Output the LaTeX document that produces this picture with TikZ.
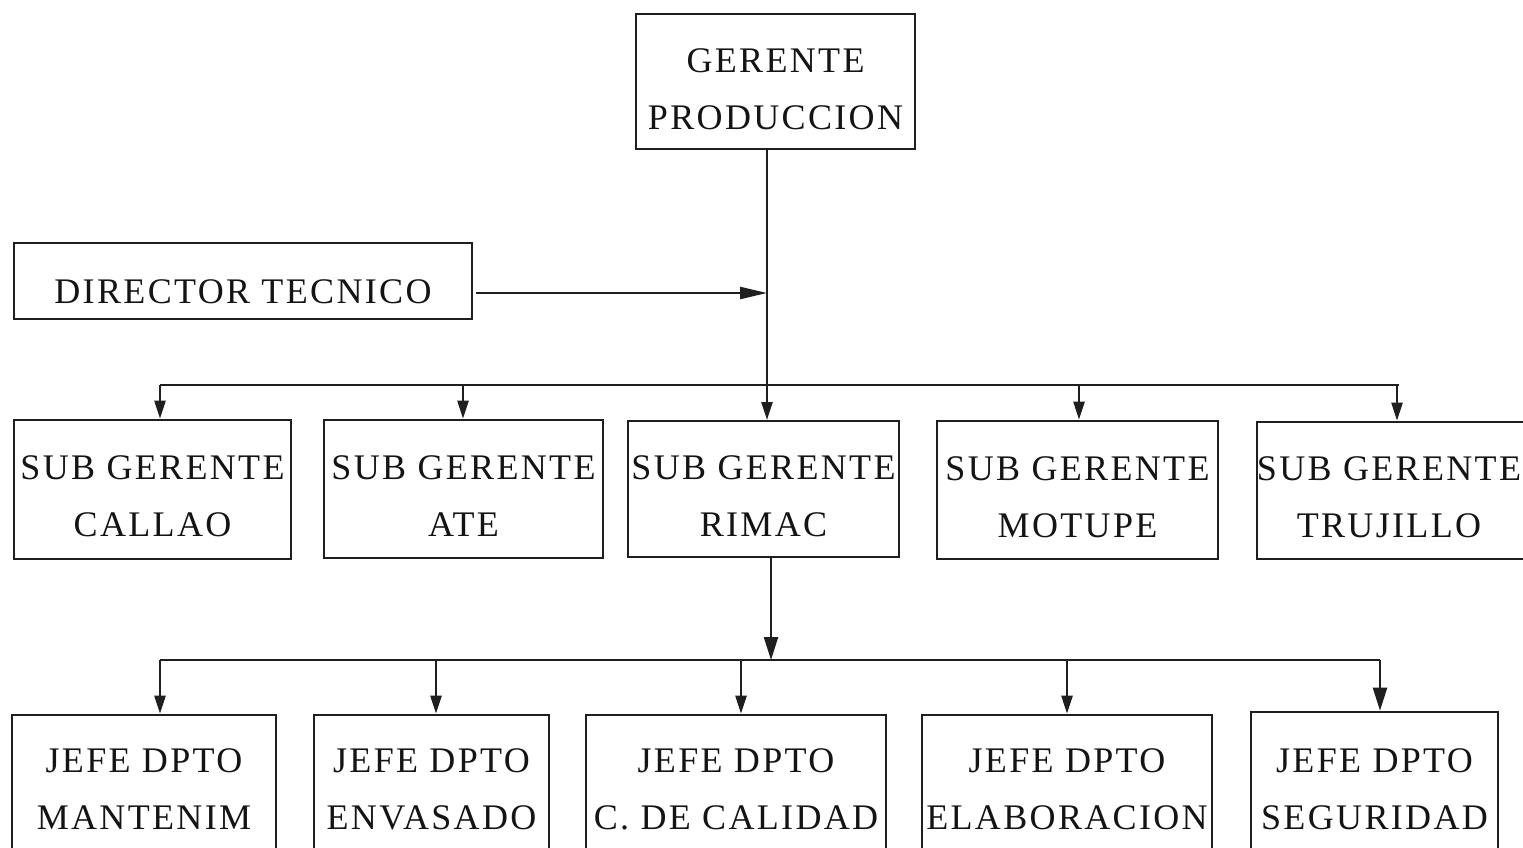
\documentclass[tikz,border=0pt]{standalone}
\usepackage{fontspec}
\setmainfont{Liberation Serif}[LetterSpace=6.5]
\usetikzlibrary{arrows.meta}
\begin{document}
\begin{tikzpicture}[x=1pt,y=-1pt,
  box/.style={draw=black!88, line width=2.6pt, inner sep=0pt},
  lbl/.style={font=\fontsize{36}{57}\selectfont, align=center, inner sep=0pt, text=black!92},
  conn/.style={line width=2.3pt, draw=black!88},
  arr/.style={conn, -{Triangle[width=11pt,length=18pt]}},
  bigarr/.style={conn, -{Triangle[width=14pt,length=23pt]}},
  dirarr/.style={conn, -{Triangle[width=12pt,length=27pt]}}]
\useasboundingbox (0,0) rectangle (1523,847);
\fill[white] (0,0) rectangle (1523,847);
\clip (0,0) rectangle (1523,847);

% top level
\node[box, minimum width=279pt, minimum height=135pt,
  label={[lbl,yshift=-7.5pt]center:{GERENTE\\PRODUCCION}}] (gp) at (775.5,81.5) {};
\node[box, minimum width=458pt, minimum height=76pt,
  label={[lbl,yshift=-11pt]center:{DIRECTOR TECNICO}}] (dt) at (243,281) {};

% sub-managers
\node[box, minimum width=277pt, minimum height=139pt,
  label={[lbl,yshift=-7pt]center:{SUB GERENTE\\CALLAO}}] (callao) at (152.5,489.5) {};
\node[box, minimum width=279pt, minimum height=138pt,
  label={[lbl,yshift=-7pt]center:{SUB GERENTE\\ATE}}] (ate) at (463.5,489) {};
\node[box, minimum width=271pt, minimum height=136pt,
  label={[lbl,yshift=-7pt]center:{SUB GERENTE\\RIMAC}}] (rimac) at (763.5,489) {};
\node[box, minimum width=281pt, minimum height=138pt,
  label={[lbl,yshift=-7pt]center:{SUB GERENTE\\MOTUPE}}] (motupe) at (1077.5,490) {};
\node[box, minimum width=276pt, minimum height=137pt,
  label={[lbl,xshift=-6pt,yshift=-7pt]center:{SUB GERENTE\\TRUJILLO}}] (trujillo) at (1395,490.5) {};

% department heads
\node[box, minimum width=264pt, minimum height=139pt,
  label={[lbl,yshift=-4.5pt]center:{JEFE DPTO\\MANTENIM}}] (mant) at (144,784.5) {};
\node[box, minimum width=235pt, minimum height=139pt,
  label={[lbl,yshift=-4.5pt]center:{JEFE DPTO\\ENVASADO}}] (env) at (431.5,784.5) {};
\node[box, minimum width=300pt, minimum height=139pt,
  label={[lbl,yshift=-4.5pt]center:{JEFE DPTO\\C. DE CALIDAD}}] (cal) at (736,784.5) {};
\node[box, minimum width=290pt, minimum height=139pt,
  label={[lbl,yshift=-4.5pt]center:{JEFE DPTO\\ELABORACION}}] (elab) at (1067,784.5) {};
\node[box, minimum width=247pt, minimum height=143pt,
  label={[lbl,yshift=-5.5pt]center:{JEFE DPTO\\SEGURIDAD}}] (seg) at (1374.5,783.5) {};

% trunk, staff link and bus points
\coordinate (m1) at (767,420);
\coordinate (s0) at (476,293);
\coordinate (b1l) at (160,385);
\coordinate (b1r) at (1399,385);
\coordinate (a1) at (160,385);
\coordinate (a2) at (463,385);
\coordinate (a4) at (1079,385);
\coordinate (a5) at (1397,385);
\coordinate (r0) at (771,557);
\coordinate (b2l) at (160,660);
\coordinate (b2r) at (1380,660);
\coordinate (c1) at (160,660);
\coordinate (c2) at (436,660);
\coordinate (c3) at (741,660);
\coordinate (c4) at (1067,660);
\coordinate (c5) at (1380,660);

% main trunk and staff link
\draw[arr] (gp.south -| m1) -- (m1);
\draw[dirarr] (s0) -- (s0 -| m1);

% first distribution bus
\draw[conn] (b1l) -- (b1r);
\draw[arr] (a1) -- (a1 |- callao.north);
\draw[arr] (a2) -- (a2 |- ate.north);
\draw[arr] (a4) -- (a4 |- motupe.north);
\draw[arr] (a5) -- (a5 |- trujillo.north);

% second distribution bus
\draw[bigarr] (r0) -- (r0 |- b2l);
\draw[conn] (b2l) -- (b2r);
\draw[arr] (c1) -- (c1 |- mant.north);
\draw[arr] (c2) -- (c2 |- env.north);
\draw[arr] (c3) -- (c3 |- cal.north);
\draw[arr] (c4) -- (c4 |- elab.north);
\draw[bigarr] (c5) -- (c5 |- seg.north);
\end{tikzpicture}
\end{document}
